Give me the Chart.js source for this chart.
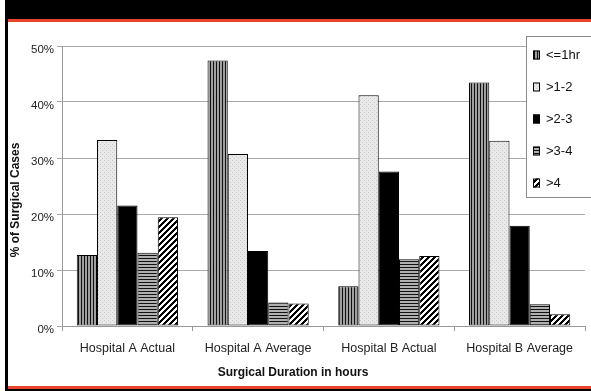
<!DOCTYPE html>
<html>
<head>
<meta charset="utf-8">
<script src="https://cdn.jsdelivr.net/npm/chart.js@4/dist/chart.umd.min.js"></script>
<style>
  html, body { margin: 0; padding: 0; background: #fff; }
  #wrap { position: relative; width: 591px; height: 391px; overflow: hidden; background: #fff; }
  #c { position: absolute; left: 0; top: 0; }
  .edge { position: absolute; }
</style>
</head>
<body>
<div id="wrap">
  <canvas id="c" width="591" height="391"></canvas>
  <div class="edge" style="left:5px;top:0;width:586px;height:19px;background:#000"></div>
  <div class="edge" style="left:8px;top:19px;width:583px;height:3px;background:#e8452c"></div>
  <div class="edge" style="left:5px;top:0;width:3px;height:391px;background:#000"></div>
  <div class="edge" style="left:8px;top:386px;width:583px;height:3px;background:#e8452c"></div>
  <div class="edge" style="left:5px;top:389px;width:586px;height:2px;background:#000"></div>
</div>
<script>
// Categories and per-duration shares (% of surgical cases)
const categories = ['Hospital A Actual', 'Hospital A Average', 'Hospital B Actual', 'Hospital B Average'];
const seriesNames = ['<=1hr', '>1-2', '>2-3', '>3-4', '>4'];
const upTo1hr   = [12.7, 47.4, 7.1, 43.5];
const from1to2  = [33.2, 30.7, 41.2, 33.1];
const from2to3  = [21.5, 13.4, 27.6, 17.9];
const from3to4  = [13.1, 4.2, 11.9, 3.9];
const over4     = [19.4, 4.0, 12.5, 2.1];
const yTickValues = [0, 10, 20, 30, 40, 50];

const FONT = '"Liberation Sans", Arial, sans-serif';

// Small tiled fills used for the bars
function tile(w, h, paint) {
  const cv = document.createElement('canvas');
  cv.width = w; cv.height = h;
  const g = cv.getContext('2d');
  paint(g, w, h);
  return document.getElementById('c').getContext('2d').createPattern(cv, 'repeat');
}
const fillVertical = tile(3, 3, (g) => {
  g.fillStyle = '#a0a0a0'; g.fillRect(0, 0, 3, 3);
  g.fillStyle = '#111'; g.fillRect(0, 0, 1, 3);
});
const fillDotted = tile(4, 4, (g) => {
  g.fillStyle = '#e9e9e9'; g.fillRect(0, 0, 4, 4);
  g.fillStyle = '#c9c9c9'; g.fillRect(0, 0, 1, 1); g.fillRect(2, 2, 1, 1);
});
const fillSolid = '#000';
const fillHorizontal = tile(3, 3, (g) => {
  g.fillStyle = '#b0b0b0'; g.fillRect(0, 0, 3, 3);
  g.fillStyle = '#111'; g.fillRect(0, 0, 3, 1);
});
const fillDiagonal = tile(6, 6, (g) => {
  g.fillStyle = '#fff'; g.fillRect(0, 0, 6, 6);
  g.fillStyle = '#000';
  for (let y = 0; y < 6; y++) for (let x = 0; x < 6; x++) {
    if ((x + y) % 6 < 3) g.fillRect(x, y, 1, 1);
  }
});

const seriesValues = [upTo1hr, from1to2, from2to3, from3to4, over4];
const seriesFills = [fillVertical, fillDotted, fillSolid, fillHorizontal, fillDiagonal];

// Boxed legend in the upper right corner
const boxLegend = {
  id: 'boxLegend',
  afterDraw(chart) {
    const ctx = chart.ctx;
    const x0 = 526.5, y0 = 36.5, w = 70, h = 161;
    ctx.save();
    ctx.fillStyle = '#fff';
    ctx.fillRect(x0, y0, w, h);
    ctx.strokeStyle = '#8a8a8a';
    ctx.lineWidth = 1;
    ctx.strokeRect(x0, y0, w, h);
    ctx.font = '13px ' + FONT;
    ctx.textBaseline = 'middle';
    ctx.textAlign = 'left';
    chart.data.datasets.forEach((ds, i) => {
      const cy = 55 + i * 32;
      ctx.fillStyle = ds.backgroundColor;
      ctx.fillRect(533, cy - 4.5, 7, 9);
      ctx.strokeStyle = '#000';
      ctx.strokeRect(533.5, cy - 4, 6, 8);
      ctx.fillStyle = '#111';
      ctx.fillText(ds.label, 546, cy + 0.5);
    });
    ctx.restore();
  }
};

// Axis titles
const axisTitles = {
  id: 'axisTitles',
  afterDraw(chart) {
    const ctx = chart.ctx;
    ctx.save();
    ctx.fillStyle = '#111';
    ctx.font = 'bold 12px ' + FONT;
    ctx.textAlign = 'center';
    ctx.textBaseline = 'middle';
    ctx.fillText('Surgical Duration in hours', 293, 373);
    ctx.translate(16, 200);
    ctx.rotate(-Math.PI / 2);
    ctx.fillText('% of Surgical Cases', 0, 0);
    ctx.restore();
  }
};

new Chart(document.getElementById('c'), {
  type: 'bar',
  data: {
    labels: categories,
    datasets: seriesNames.map((name, i) => ({
      label: name,
      data: seriesValues[i],
      backgroundColor: seriesFills[i],
      borderColor: '#000',
      borderWidth: 1,
      borderSkipped: false,
      categoryPercentage: 0.774,
      barPercentage: 1.0
    }))
  },
  options: {
    responsive: false,
    animation: false,
    events: [],
    layout: { padding: { top: 46, right: 6, left: 0, bottom: 0 } },
    plugins: { legend: { display: false }, tooltip: { enabled: false } },
    scales: {
      x: {
        grid: { drawOnChartArea: false, drawTicks: true, tickLength: 5, color: '#999', offset: true },
        border: { display: true, color: '#999' },
        ticks: { color: '#222', font: { family: FONT, size: 12.5 }, padding: 10, maxRotation: 0, autoSkip: false },
        afterFit(scale) { scale.height = 65; }
      },
      y: {
        min: 0,
        max: 50,
        afterBuildTicks(scale) { scale.ticks = yTickValues.map(v => ({ value: v })); },
        grid: { color: '#aaa', tickLength: 5, drawTicks: true },
        border: { display: true, color: '#999' },
        ticks: {
          color: '#222',
          font: { family: FONT, size: 11.5 },
          padding: 3,
          labelOffset: 4,
          callback: (v) => v + '%'
        },
        afterFit(scale) { scale.width = 62; }
      }
    }
  },
  plugins: [boxLegend, axisTitles]
});
</script>
</body>
</html>
